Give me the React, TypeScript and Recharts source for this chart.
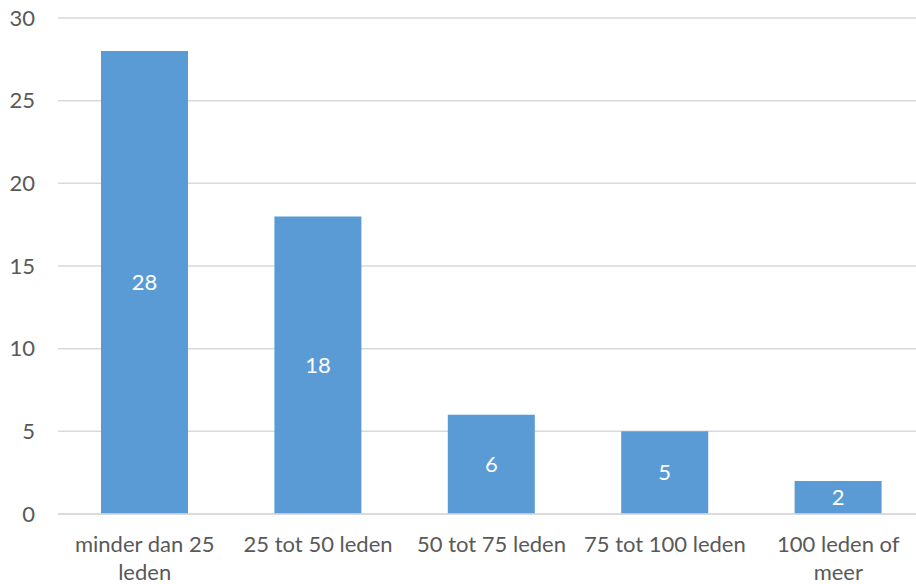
import React from 'react';
import { BarChart, Bar, XAxis, YAxis, CartesianGrid, LabelList } from 'recharts';

const categories = ['minder dan 25 leden', '25 tot 50 leden', '50 tot 75 leden', '75 tot 100 leden', '100 leden of meer'];
const counts = [28, 18, 6, 5, 2];
const yTicks = [0, 5, 10, 15, 20, 25, 30];

// labels that Excel wrapped onto two lines
const tickLines: Record<string, string[]> = {
  'minder dan 25 leden': ['minder dan 25', 'leden'],
  '100 leden of meer': ['100 leden of', 'meer'],
};

const data = categories.map((name, i) => ({ name, value: counts[i] }));

const FONT = 'Lato, "Open Sans", sans-serif';
const TEXT = '#595959';

const CategoryTick = ({ x, y, payload }: any) => {
  const lines = tickLines[payload.value] || [payload.value];
  return (
    <text x={x} y={y} textAnchor="middle" fill={TEXT} fontSize={22} fontFamily={FONT}>
      {lines.map((line, i) => (
        <tspan key={i} x={x} dy={i === 0 ? 30 : 28}>{line}</tspan>
      ))}
    </text>
  );
};

const App: React.FC = () => {
  return (
    <div style={{ position: 'absolute', left: 0, top: 0, width: 916, height: 584, overflow: 'hidden', background: '#fff' }}>
      <BarChart width={925} height={584} data={data} margin={{ top: 18, right: 0, left: 0, bottom: 0 }}>
        <CartesianGrid vertical={false} stroke="#D9D9D9" strokeWidth={1.5} />
        <XAxis
          dataKey="name"
          height={70}
          axisLine={{ stroke: '#D9D9D9', strokeWidth: 1.5 }}
          tickLine={false}
          interval={0}
          tick={<CategoryTick />}
        />
        <YAxis
          width={58}
          domain={[0, 30]}
          ticks={yTicks}
          axisLine={false}
          tickLine={false}
          tickSize={0}
          tickMargin={23}
          tick={{ fill: TEXT, fontSize: 22, fontFamily: FONT }}
        />
        <Bar dataKey="value" fill="#5B9BD5" barSize={87} isAnimationActive={false}>
          <LabelList dataKey="value" position="center" fill="#FFFFFF" fontSize={22} fontFamily={FONT} />
        </Bar>
      </BarChart>
    </div>
  );
};

export default App;
